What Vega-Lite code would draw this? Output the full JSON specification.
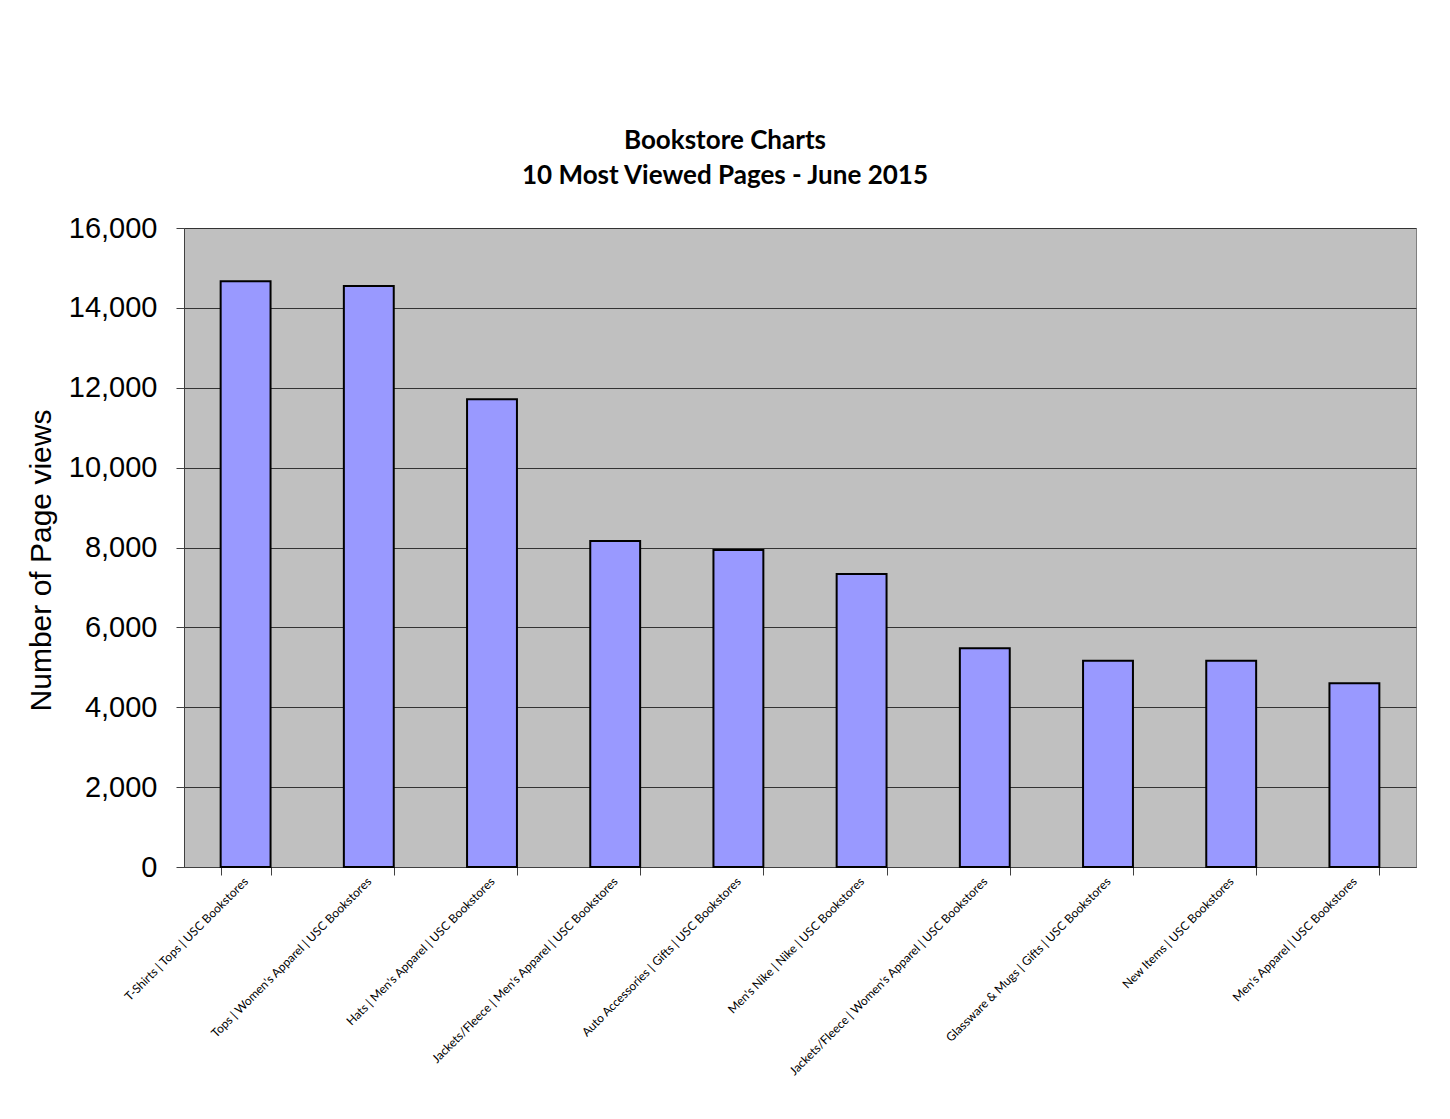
{
  "$schema": "https://vega.github.io/schema/vega-lite/v6.json",
  "autosize": {"type": "none"},
  "width": 1232,
  "height": 639,
  "padding": {"left": 184, "top": 228, "right": 34, "bottom": 252},
  "background": "white",
  "title": {
    "text": ["Bookstore Charts", "10 Most Viewed Pages - June 2015"],
    "font": "Lato",
    "fontSize": 26,
    "fontWeight": "bold",
    "color": "black",
    "lineHeight": 35,
    "anchor": "middle",
    "dx": -75,
    "offset": 25
  },
  "config": {
    "view": {"fill": "#C0C0C0", "stroke": "#808080", "strokeWidth": 1},
    "axis": {"domainColor": "#404040", "tickColor": "#404040", "domainWidth": 1, "tickWidth": 1}
  },
  "data": {
    "values": [
      {"page": "T-Shirts | Tops | USC Bookstores", "views": 14664},
      {"page": "Tops | Women's Apparel | USC Bookstores", "views": 14547},
      {"page": "Hats | Men's Apparel | USC Bookstores", "views": 11715},
      {"page": "Jackets/Fleece | Men's Apparel | USC Bookstores", "views": 8160},
      {"page": "Auto Accessories | Gifts | USC Bookstores", "views": 7935},
      {"page": "Men's Nike | Nike | USC Bookstores", "views": 7334},
      {"page": "Jackets/Fleece | Women's Apparel | USC Bookstores", "views": 5479},
      {"page": "Glassware & Mugs | Gifts | USC Bookstores", "views": 5165},
      {"page": "New Items | USC Bookstores", "views": 5165},
      {"page": "Men's Apparel | USC Bookstores", "views": 4598}
    ]
  },
  "mark": {"type": "bar", "color": "#9999FF", "stroke": "black", "strokeWidth": 2},
  "encoding": {
    "x": {
      "field": "page",
      "type": "nominal",
      "sort": null,
      "scale": {"paddingInner": 0.595, "paddingOuter": 0.2975},
      "axis": {
        "title": null,
        "labelAngle": -45,
        "labelAlign": "right",
        "labelBaseline": "middle",
        "labelFont": "Lato",
        "labelFontSize": 12,
        "labelColor": "black",
        "labelPadding": 4,
        "labelLimit": 400,
        "tickBand": "extent",
        "tickSize": 8,
        "grid": false
      }
    },
    "y": {
      "field": "views",
      "type": "quantitative",
      "scale": {"domain": [0, 16000]},
      "axis": {
        "title": "Number of Page views",
        "titleFont": "Liberation Sans",
        "titleFontSize": 30,
        "titleFontWeight": "normal",
        "titleColor": "black",
        "titlePadding": 12,
        "titleY": 332,
        "values": [0, 2000, 4000, 6000, 8000, 10000, 12000, 14000, 16000],
        "format": ",d",
        "labelFont": "Liberation Sans",
        "labelFontSize": 29,
        "labelColor": "black",
        "labelPadding": 19,
        "tickSize": 8,
        "grid": true,
        "gridColor": "#333333",
        "gridWidth": 1
      }
    }
  }
}
